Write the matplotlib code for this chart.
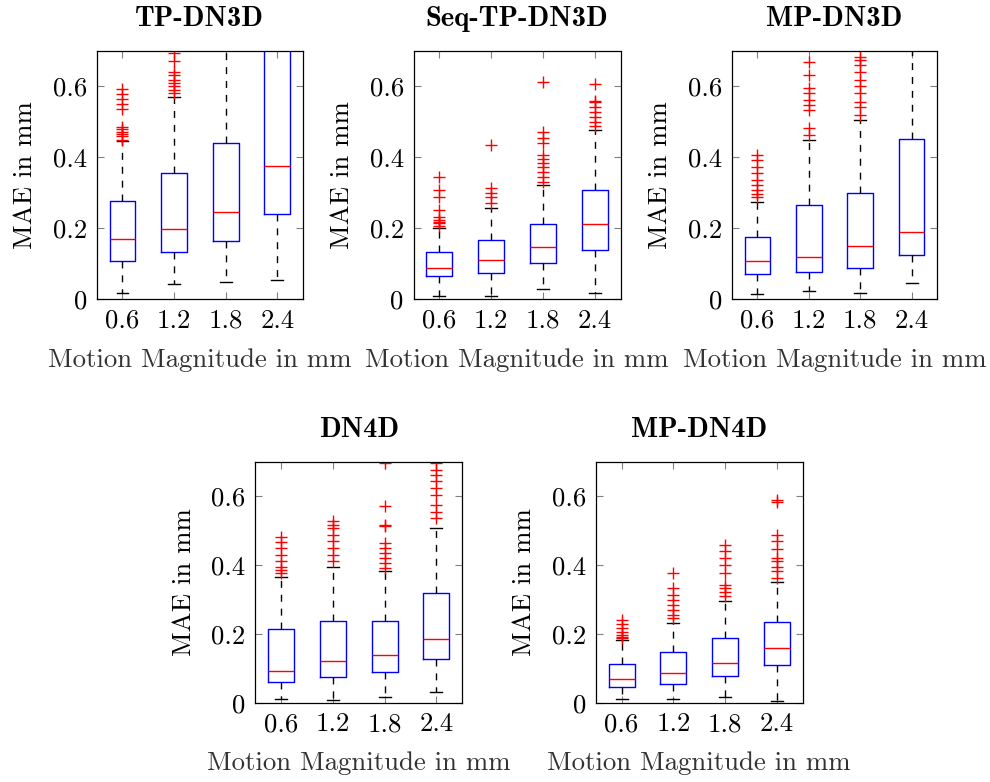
import matplotlib
matplotlib.use("Agg")
import matplotlib.pyplot as plt

plt.rcParams["font.family"] = ["cmr10", "DejaVu Serif"]
plt.rcParams["axes.formatter.use_mathtext"] = True

W, H = 990, 782

positions = [1, 2, 3, 4]
tick_labels = ["0.6", "1.2", "1.8", "2.4"]
y_ticks = [0, 0.2, 0.4, 0.6]
y_tick_labels = ["0", "0.2", "0.4", "0.6"]

titles = ["TP-DN3D", "Seq-TP-DN3D", "MP-DN3D", "DN4D", "MP-DN4D"]

# per method: (lower whisker, q1, median, q3, upper whisker) for each magnitude
tp_dn3d_stats = [
    (0.017, 0.107, 0.171, 0.276, 0.447),
    (0.044, 0.132, 0.197, 0.355, 0.571),
    (0.049, 0.163, 0.247, 0.440, 0.800),
    (0.054, 0.240, 0.377, 0.760, 1.100),
]
tp_dn3d_fliers = [
    [0.449, 0.459, 0.467, 0.473, 0.479, 0.485, 0.537, 0.550, 0.565, 0.579, 0.592],
    [0.581, 0.590, 0.600, 0.609, 0.618, 0.633, 0.642, 0.673, 0.694],
    [],
    [],
]

seq_tp_dn3d_stats = [
    (0.008, 0.065, 0.088, 0.133, 0.200),
    (0.010, 0.075, 0.111, 0.166, 0.256),
    (0.028, 0.102, 0.148, 0.211, 0.321),
    (0.019, 0.139, 0.213, 0.309, 0.477),
]
seq_tp_dn3d_fliers = [
    [0.206, 0.214, 0.219, 0.224, 0.233, 0.252, 0.289, 0.308, 0.344],
    [0.271, 0.288, 0.300, 0.313, 0.434],
    [0.332, 0.346, 0.360, 0.374, 0.383, 0.395, 0.407, 0.440, 0.454, 0.473, 0.613],
    [0.489, 0.501, 0.515, 0.529, 0.543, 0.555, 0.559, 0.606],
]

mp_dn3d_stats = [
    (0.014, 0.071, 0.109, 0.175, 0.275),
    (0.023, 0.078, 0.119, 0.265, 0.449),
    (0.019, 0.089, 0.150, 0.301, 0.506),
    (0.045, 0.124, 0.189, 0.453, 0.900),
]
mp_dn3d_fliers = [
    [0.289, 0.298, 0.308, 0.322, 0.336, 0.355, 0.374, 0.393, 0.407],
    [0.463, 0.482, 0.534, 0.548, 0.562, 0.581, 0.595, 0.633, 0.670],
    [0.520, 0.543, 0.557, 0.581, 0.600, 0.618, 0.642, 0.661, 0.675, 0.684],
    [],
]

dn4d_stats = [
    (0.011, 0.060, 0.092, 0.214, 0.365),
    (0.008, 0.076, 0.120, 0.237, 0.395),
    (0.016, 0.090, 0.138, 0.239, 0.383),
    (0.031, 0.128, 0.185, 0.318, 0.509),
]
dn4d_fliers = [
    [0.377, 0.386, 0.396, 0.411, 0.430, 0.450, 0.467, 0.483],
    [0.411, 0.430, 0.450, 0.469, 0.488, 0.508, 0.517, 0.527],
    [0.391, 0.406, 0.420, 0.435, 0.450, 0.464, 0.513, 0.517, 0.571, 0.698],
    [0.537, 0.556, 0.576, 0.605, 0.624, 0.644, 0.663, 0.678, 0.698],
]

mp_dn4d_stats = [
    (0.010, 0.046, 0.069, 0.114, 0.183),
    (0.012, 0.055, 0.085, 0.147, 0.232),
    (0.018, 0.077, 0.116, 0.187, 0.297),
    (0.006, 0.110, 0.160, 0.234, 0.352),
]
mp_dn4d_fliers = [
    [0.187, 0.192, 0.197, 0.207, 0.217, 0.228, 0.241],
    [0.246, 0.255, 0.270, 0.284, 0.299, 0.314, 0.333, 0.377],
    [0.309, 0.323, 0.333, 0.343, 0.377, 0.401, 0.420, 0.440, 0.459],
    [0.362, 0.382, 0.396, 0.411, 0.420, 0.447, 0.469, 0.488, 0.585, 0.590],
]

all_stats = [tp_dn3d_stats, seq_tp_dn3d_stats, mp_dn3d_stats, dn4d_stats, mp_dn4d_stats]
all_fliers = [tp_dn3d_fliers, seq_tp_dn3d_fliers, mp_dn3d_fliers, dn4d_fliers, mp_dn4d_fliers]

# axes rectangles in pixels: (left, right, top, bottom)
rects = [
    (96.7, 303.0, 51.0, 299.3),
    (413.5, 620.7, 51.0, 299.3),
    (731.7, 937.3, 51.0, 299.3),
    (255.0, 462.3, 462.0, 702.7),
    (595.7, 802.7, 462.0, 702.7),
]

fig = plt.figure(figsize=(W / 100, H / 100), dpi=100)
fs = 19.3

for title, stats, fliers, (l, r, t, b) in zip(titles, all_stats, all_fliers, rects):
    ax = fig.add_axes([l / W, 1 - b / H, (r - l) / W, (b - t) / H])
    bxp_stats = []
    for (wl, q1, med, q3, wh), fl in zip(stats, fliers):
        bxp_stats.append(dict(whislo=wl, q1=q1, med=med, q3=q3, whishi=wh, fliers=fl))
    ax.bxp(
        bxp_stats,
        positions=positions,
        widths=0.5,
        capwidths=0.23,
        boxprops=dict(color="#0000ff", linewidth=1.0),
        medianprops=dict(color="#ff0000", linewidth=1.0),
        whiskerprops=dict(color="black", linewidth=1.0, linestyle=(0, (5, 5))),
        capprops=dict(color="black", linewidth=1.0),
        flierprops=dict(marker="+", markeredgecolor="#ff0000", markersize=8,
                        markeredgewidth=1.0, linestyle="none"),
    )
    ax.set_xlim(0.5, 4.5)
    ax.set_ylim(0, 0.7)
    ax.set_xticks(positions)
    ax.set_xticklabels(tick_labels)
    ax.set_yticks(y_ticks)
    ax.set_yticklabels(y_tick_labels)
    ax.tick_params(direction="in", length=5, width=0.8, color="#808080",
                   top=True, right=True, labelsize=fs, pad=7)
    for sp in ax.spines.values():
        sp.set_linewidth(0.9)
        sp.set_color("black")
    ax.set_title(title, fontfamily=["cmb10", "DejaVu Serif"], fontsize=20.5,
                 pad=18)
    ax.set_xlabel("Motion Magnitude in mm", fontsize=fs, color="#333333",
                  labelpad=11)
    ax.set_ylabel("MAE in mm", fontsize=fs, labelpad=11)

fig.savefig("out.png", dpi=100)
